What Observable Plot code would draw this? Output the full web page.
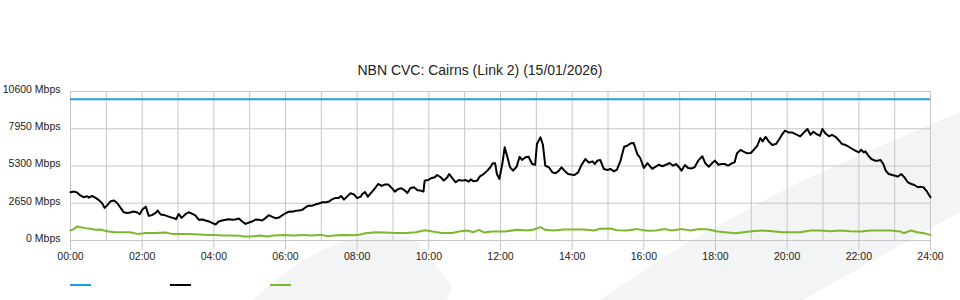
<!DOCTYPE html>
<html>
<head>
<meta charset="utf-8">
<script src="https://cdn.jsdelivr.net/npm/d3@7"></script>
<script src="https://cdn.jsdelivr.net/npm/@observablehq/plot@0.6"></script>
<style>
  html, body { margin: 0; padding: 0; background: #fff; }
  #wrap { position: relative; width: 960px; height: 300px; overflow: hidden; background: #fff; font-family: "Liberation Sans", Arial, sans-serif; }
  #bg, #chart { position: absolute; left: 0; top: 0; }
  #title { position: absolute; left: 0; top: 62px; width: 960px; text-align: center; font-size: 14px; line-height: 16px; color: #222; }
  .leg { position: absolute; top: 284px; width: 21px; height: 2px; }
</style>
</head>
<body>
<div id="wrap">
  <svg id="bg" width="960" height="300">
    <path d="M253,300 C290,266 330,238 372,236 C398,235 414,237 420,245 L452,287 L447,300 Z" fill="#f3f4f6"/>
    <path d="M600,300 C630,280 660,258 693,240 C725,222 760,202 790,187 C840,163 890,142 960,112 L960,212 L803,300 Z" fill="#f3f4f6"/>
  </svg>
  <div id="chart"></div>
  <div id="title"></div>
  <div class="leg" id="leg0" style="left:70px"></div>
  <div class="leg" id="leg1" style="left:170px"></div>
  <div class="leg" id="leg2" style="left:270px"></div>
</div>
<script>
const chartTitle = "NBN CVC: Cairns (Link 2) (15/01/2026)";
const seriesColors = ["#1e9fe0", "#000000", "#7ab929"];

// capacity (Mbps)
const capacityMbps = [10050];

// total traffic: minutes since 00:00, Mbps
const trafficTimes = [0,6,11,17,22,28,31,36,42,47,53,57,61,67,73,78,84,89,95,100,106,112,116,120,126,131,137,142,146,151,156,162,167,173,177,181,186,193,198,204,209,215,221,226,232,237,243,
  248,254,260,265,271,276,282,287,293,299,304,310,315,321,327,332,338,343,349,354,360,366,371,377,382,388,394,399,405,410,416,422,427,433,438,444,449,453,458,463,469,475,480,486,
  488,493,498,504,510,515,521,526,532,538,543,549,554,560,564,569,575,581,586,591,593,599,605,610,614,620,625,631,634,639,645,650,656,661,667,670,675,681,685,692,698,703,707,711,714,718,723,727,
  731,736,741,747,752,756,762,767,773,778,781,787,791,795,801,807,812,818,822,827,833,838,844,850,855,862,868,874,878,882,887,893,899,904,910,915,921,927,932,938,943,949,954,960,966,971,
  974,980,985,991,996,1003,1009,1014,1019,1023,1029,1034,1040,1045,1051,1058,1063,1069,1074,1079,1085,1090,1096,1101,1107,1112,1116,1122,1127,1133,1139,1144,1150,1155,1159,1164,1169,1175,1181,1186,1192,1196,1202,1208,1214,
  1222,1228,1234,1239,1244,1249,1255,1259,1264,1270,1275,1281,1287,1292,1298,1303,1309,1314,1320,1324,1328,1331,1336,1341,1347,1352,1356,1361,1365,1370,1376,1381,1385,1391,1397,1402,1408,1413,1419,1423,1428,1433,1437,1440];
const trafficMbps = [3430,3480,3410,3190,3080,3150,3050,3170,3030,2890,2650,2320,2480,2790,2840,2670,2320,2010,1960,1990,2060,1990,1870,2180,2410,1750,1820,1940,2130,1850,1820,1730,1660,1590,1510,1890,1610,1890,2010,1890,1780,1470,1490,1420,1350,1250,1140,
  1350,1420,1470,1510,1470,1490,1560,1370,1180,1280,1350,1490,1470,1420,1610,1800,1680,1590,1630,1780,1940,2060,2040,2110,2130,2180,2370,2480,2480,2560,2630,2720,2720,2770,2930,3030,3030,3170,2910,3120,3360,3270,3010,3120,
  3270,3450,3120,3430,3720,4020,3880,3980,3980,3740,3480,3670,3720,3550,3380,3720,3790,3570,3550,3480,4260,4310,4450,4500,4660,4500,4260,4500,4730,4450,4140,4310,4260,4310,4190,4350,4210,4260,4540,4730,4970,5210,5490,5490,4730,4380,5440,6630,
  6030,5210,4970,5250,5960,5730,5920,5960,5440,5390,6860,7340,6810,5320,5210,4850,4780,4970,5210,4970,4730,4690,4660,4850,5320,5800,5540,5630,5440,5680,5730,5090,5020,5090,4920,5040,5680,6670,6740,6910,6930,6150,5870,5160,5510,5250,
  5090,5250,5390,5280,5370,5510,5320,5440,5210,4970,5370,5160,5130,5210,5680,5990,5490,5250,5490,5680,5390,5440,5440,5320,5490,5560,6200,6440,6320,6200,6220,6440,6740,7290,7050,7380,7050,6790,6860,7150,7570,7810,7690,7690,7570,
  7410,7690,7930,7520,7740,7570,7450,7930,7620,7410,7520,7380,7100,6860,6790,6670,6510,6390,6270,6460,6270,6340,6030,5800,5680,5680,5730,5440,4970,4730,4660,4610,4540,4730,4450,4140,4020,3950,3790,3830,3790,3550,3270,3080];

// second (green) series: minutes since 00:00, Mbps
const baseTimes = [0,6,11,17,25,33,42,50,56,64,75,87,100,112,126,142,159,170,181,198,215,232,243,
  251,268,285,290,301,318,329,340,357,374,391,402,419,430,441,458,474,486,
  494,511,527,544,561,578,594,606,622,639,650,664,675,684,692,706,717,728,
  748,765,776,787,795,809,826,843,860,876,887,904,915,932,949,966,
  980,996,1007,1024,1038,1052,1069,1083,1100,1113,1127,1141,1158,1175,1192,1208,
  1222,1239,1256,1273,1289,1306,1323,1340,1356,1373,1390,1395,1407,1418,1429,1440];
const baseMbps = [710,830,990,950,880,830,760,780,710,640,590,590,590,470,540,540,570,470,470,470,430,400,400,
  360,360,330,280,280,360,280,360,400,360,400,360,400,310,360,400,380,430,
  520,590,570,540,540,590,730,640,540,540,640,710,590,760,570,640,640,640,
  760,710,780,950,760,710,780,780,780,710,830,850,730,710,810,690,
  710,810,710,810,710,810,780,640,570,520,590,660,710,660,590,590,
  590,710,710,660,710,660,640,710,710,710,640,520,710,590,520,400];

const yTicks = [0, 2650, 5300, 7950, 10600];
const xTickMinutes = [0,120,240,360,480,600,720,840,960,1080,1200,1320,1440];
const gridMinutes = d3.range(0, 1441, 60);

const traffic = trafficTimes.map((t, i) => ({t, v: trafficMbps[i]}));
const base = baseTimes.map((t, i) => ({t, v: baseMbps[i]}));
const fmtTime = m => String(Math.round(m / 60)).padStart(2, "0") + ":00";

const chart = Plot.plot({
  width: 960,
  height: 300,
  marginLeft: 70,
  marginRight: 30,
  marginTop: 91,
  marginBottom: 60,
  style: {fontFamily: "'Liberation Sans', Arial, sans-serif", fontSize: "10.5px", color: "#222", background: "transparent", overflow: "visible"},
  x: {type: "linear", domain: [0, 1440]},
  y: {type: "linear", domain: [0, 10600]},
  marks: [
    Plot.gridX(gridMinutes, {stroke: "#c6c6c6", strokeOpacity: 1, strokeWidth: 1}),
    Plot.gridY(yTicks, {stroke: "#c6c6c6", strokeOpacity: 1, strokeWidth: 1}),
    Plot.axisX(xTickMinutes, {tickSize: 10, tickPadding: 2, tickFormat: fmtTime, stroke: "#c6c6c6", fill: "#222", label: null}),
    Plot.axisY(yTicks, {tickSize: 0, tickPadding: 10, tickFormat: d => d + " Mbps", fill: "#222", dy: -2, label: null}),
    Plot.ruleY(capacityMbps, {stroke: seriesColors[0], strokeWidth: 2}),
    Plot.line(base, {x: "t", y: "v", stroke: seriesColors[2], strokeWidth: 2}),
    Plot.line(traffic, {x: "t", y: "v", stroke: seriesColors[1], strokeWidth: 2})
  ]
});
document.getElementById("chart").appendChild(chart);
document.getElementById("title").textContent = chartTitle;
seriesColors.forEach((c, i) => { document.getElementById("leg" + i).style.background = c; });
</script>
</body>
</html>
